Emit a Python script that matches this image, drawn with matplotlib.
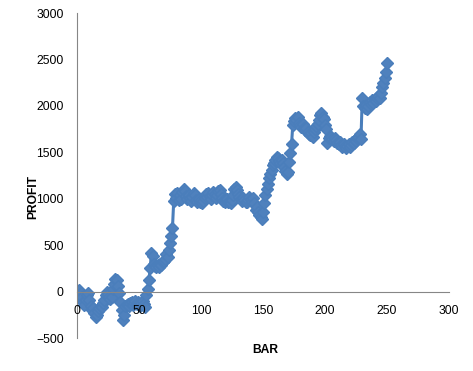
import matplotlib
matplotlib.use("Agg")
import matplotlib.pyplot as plt

# profit per bar (bars 1..250)
profit = [
    -50, 20, -10, -60, -110, -140, -90, -40, -20, -90,
    -160, -200, -180, -230, -270, -250, -210, -180, -150, -170,
    -120, -90, -40, 0, -30, -60, -80, -60, 30, 80,
    140, 120, 60, -20, -110, -200, -310, -250, -160, -140,
    -130, -150, -120, -110, -140, -120, -100, -130, -110, -120,
    -150, -120, -100, -130, -170, -40, 30, 130, 250, 420,
    380, 300, 280, 260, 290, 270, 300, 290, 320, 330,
    350, 400, 370, 450, 520, 600, 690, 980, 1050, 1010,
    1060, 990, 1040, 1000, 1070, 1110, 1080, 1030, 1000, 1040,
    1010, 980, 1020, 1060, 1040, 990, 960, 1000, 970, 990,
    950, 980, 1010, 1050, 1020, 1060, 1030, 1000, 1040, 1070,
    1050, 1010, 1040, 1080, 1090, 1050, 1010, 980, 960, 990,
    1000, 970, 960, 950, 990, 1040, 1100, 1130, 1090, 1050,
    1020, 1000, 980, 1010, 990, 960, 970, 990, 1020, 1000,
    960, 1010, 950, 880, 910, 860, 830, 800, 780, 860,
    950, 1040, 1100, 1160, 1220, 1270, 1310, 1360, 1390, 1420,
    1450, 1440, 1410, 1390, 1420, 1380, 1340, 1300, 1270, 1290,
    1400, 1490, 1590, 1790, 1840, 1870, 1850, 1880, 1820, 1790,
    1770, 1800, 1760, 1740, 1760, 1720, 1700, 1690, 1710, 1670,
    1720, 1750, 1780, 1800, 1850, 1900, 1920, 1880, 1860, 1790,
    1750, 1600, 1650, 1680, 1660, 1640, 1620, 1650, 1630, 1600,
    1590, 1610, 1580, 1560, 1590, 1570, 1550, 1570, 1590, 1560,
    1580, 1610, 1600, 1630, 1620, 1650, 1660, 1700, 1640, 2080,
    2000, 1980, 2010, 1970, 2000, 2040, 2020, 2060, 2030, 2070,
    2050, 2090, 2110, 2080, 2140, 2200, 2250, 2300, 2360, 2460,
]
bars = list(range(1, len(profit) + 1))

x_ticks = [0, 50, 100, 150, 200, 250, 300]
y_ticks = [-500, 0, 500, 1000, 1500, 2000, 2500, 3000]

plt.rcParams['font.family'] = ['Liberation Sans', 'DejaVu Sans']

fig = plt.figure(figsize=(4.73, 3.71), dpi=100)
ax = fig.add_axes([0.1628, 0.0889, 0.7865, 0.876])

ax.plot(bars, profit, color='#4A7EBB', linewidth=2.2, marker='D',
        markersize=6, markerfacecolor='#4F81BD', markeredgecolor='#4A7EBB')

ax.set_xlim(0, 300)
ax.set_ylim(-500, 3000)
ax.set_xticks(x_ticks)
ax.set_yticks(y_ticks)
ax.set_axisbelow(False)

ax.spines['top'].set_visible(False)
ax.spines['right'].set_visible(False)
ax.spines['bottom'].set_position(('data', 0))
ax.spines['left'].set_color('#868686')
ax.spines['bottom'].set_color('#868686')
ax.tick_params(axis='x', length=0, pad=10, labelsize=8.7)
ax.tick_params(axis='y', length=0, pad=9.5, labelsize=8.7)

fig.text(0.07, 0.47, 'PROFIT', rotation=90, ha='center', va='center',
         fontsize=8.7, fontweight='bold')
fig.text(0.561, 0.057, 'BAR', ha='center', va='center',
         fontsize=8.7, fontweight='bold')

fig.savefig('out.png', dpi=100)
